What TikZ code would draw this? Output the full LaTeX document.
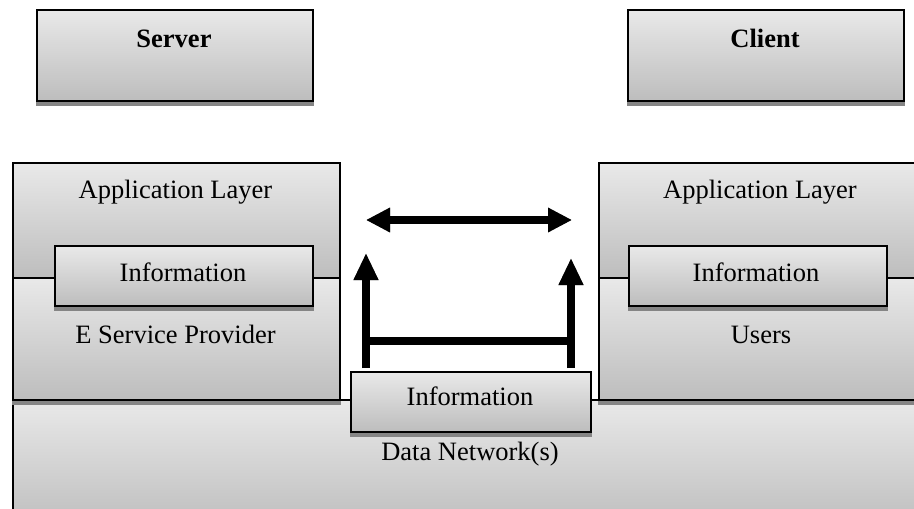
\documentclass[tikz,border=0pt]{standalone}
\usepackage{fontspec}
\setmainfont{Liberation Serif}
\usetikzlibrary{arrows.meta}
\definecolor{boxtop}{HTML}{E9E9E9}
\definecolor{boxbot}{HTML}{BDBDBD}
\definecolor{shadowgray}{HTML}{858585}
\begin{document}
\begin{tikzpicture}[x=1pt,y=-1pt,
  box/.style={draw=black, line width=1.7pt, top color=boxtop, bottom color=boxbot, rectangle, inner sep=0pt, anchor=north west},
  lbl/.style={font=\fontsize{26.5}{30}\selectfont, anchor=base, inner sep=0pt},
  blbl/.style={lbl, font=\fontsize{26.5}{30}\selectfont\bfseries},
  shd/.style={fill=shadowgray, draw=none},
  bigarrow/.style={line width=7.5pt, -{Triangle[length=27pt,width=23pt]}},
  dblarrow/.style={line width=8pt, {Triangle[length=24pt,width=23pt]}-{Triangle[length=24pt,width=23pt]}},
  thickbar/.style={line width=7.5pt}
]
\useasboundingbox (0,0) rectangle (914,509);
\clip (0,0) rectangle (914,509);

% Server / Client
\node[box, minimum width=276pt, minimum height=91pt] (server) at (36,9) {};
\fill[shd] (server.south west) rectangle ([yshift=-4.5pt]server.south east);
\node[blbl] (serverlbl) at (174,47) {Server};
\node[box, minimum width=276pt, minimum height=91pt] (client) at (627,9) {};
\fill[shd] (client.south west) rectangle ([yshift=-4.5pt]client.south east);
\node[blbl] (clientlbl) at (765,47) {Client};

% Data network
\node[box, minimum width=913pt, minimum height=130pt] (dn) at (12,399) {};
\node[lbl] (dnlbl) at (470,460) {Data Network(s)};

% Middle information
\node[box, minimum width=240pt, minimum height=60pt] (midinfo) at (350,371) {};
\fill[shd] (midinfo.south west) rectangle ([yshift=-4.5pt]midinfo.south east);
\node[lbl] (midinfolbl) at (470,405) {Information};

% Left stack
\node[box, minimum width=327pt, minimum height=115pt] (lapp) at (12,162) {};
\node[box, minimum width=327pt, minimum height=122pt] (lesp) at (12,277) {};
\fill[shd] (lesp.south west) rectangle ([yshift=-4.5pt]lesp.south east);
\node[lbl] (lapplbl) at (175.5,198) {Application Layer};
\node[lbl] (lesplbl) at (175.5,343) {E Service Provider};
\node[box, minimum width=258pt, minimum height=60pt] (linfo) at (54,245) {};
\fill[shd] (linfo.south west) rectangle ([yshift=-4.5pt]linfo.south east);
\node[lbl] (linfolbl) at (183,281) {Information};

% Right stack
\node[box, minimum width=327pt, minimum height=115pt] (rapp) at (598,162) {};
\node[box, minimum width=327pt, minimum height=122pt] (resp) at (598,277) {};
\fill[shd] (resp.south west) rectangle ([yshift=-4.5pt]resp.south east);
\node[lbl] (rapplbl) at (760,198) {Application Layer};
\node[lbl] (resplbl) at (761,343) {Users};
\node[box, minimum width=258pt, minimum height=60pt] (rinfo) at (628,245) {};
\fill[shd] (rinfo.south west) rectangle ([yshift=-4.5pt]rinfo.south east);
\node[lbl] (rinfolbl) at (756,281) {Information};

% Arrow coordinates
\coordinate (lb) at (366,368);
\coordinate (lt) at (366,253);
\coordinate (rb) at (571,368);
\coordinate (rt) at (571,258);
\coordinate (bl) at (366,341);
\coordinate (br) at (571,341);
\coordinate (dl) at (366,220);
\coordinate (dr) at (572,220);

% shadows of arrows
\begin{scope}[yshift=-4pt]
  \draw[dblarrow, shadowgray] (dl) -- (dr);
  \draw[bigarrow, shadowgray] (lb) -- (lt);
  \draw[bigarrow, shadowgray] (rb) -- (rt);
  \draw[thickbar, shadowgray] (bl) -- (br);
\end{scope}
% arrows
\draw[dblarrow] (dl) -- (dr);
\draw[thickbar] (bl) -- (br);
\draw[bigarrow] (lb) -- (lt);
\draw[bigarrow] (rb) -- (rt);
\end{tikzpicture}
\end{document}
